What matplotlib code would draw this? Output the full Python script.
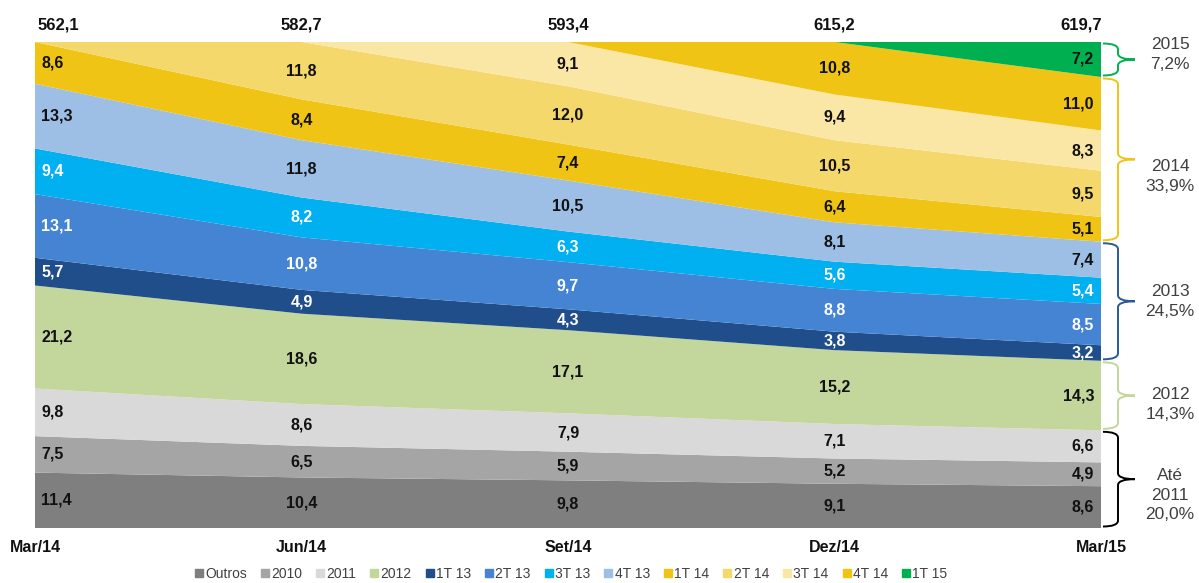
import numpy as np
import matplotlib
matplotlib.use("Agg")
import matplotlib.pyplot as plt
from matplotlib.path import Path
from matplotlib.patches import PathPatch
from matplotlib.lines import Line2D
from matplotlib import font_manager

# ---------------- data ----------------
periods = ["Mar/14", "Jun/14", "Set/14", "Dez/14", "Mar/15"]
totals = ["562,1", "582,7", "593,4", "615,2", "619,7"]
series_names = ["Outros", "2010", "2011", "2012", "1T 13", "2T 13", "3T 13", "4T 13",
                "1T 14", "2T 14", "3T 14", "4T 14", "1T 15"]
outros = [11.4, 10.4, 9.8, 9.1, 8.6]
s2010 = [7.5, 6.5, 5.9, 5.2, 4.9]
s2011 = [9.8, 8.6, 7.9, 7.1, 6.6]
s2012 = [21.2, 18.6, 17.1, 15.2, 14.3]
t1_13 = [5.7, 4.9, 4.3, 3.8, 3.2]
t2_13 = [13.1, 10.8, 9.7, 8.8, 8.5]
t3_13 = [9.4, 8.2, 6.3, 5.6, 5.4]
t4_13 = [13.3, 11.8, 10.5, 8.1, 7.4]
t1_14 = [8.6, 8.4, 7.4, 6.4, 5.1]
t2_14 = [0.0, 11.8, 12.0, 10.5, 9.5]
t3_14 = [0.0, 0.0, 9.1, 9.4, 8.3]
t4_14 = [0.0, 0.0, 0.0, 10.8, 11.0]
t1_15 = [0.0, 0.0, 0.0, 0.0, 7.2]

group_labels = ["Até\n2011\n20,0%", "2012\n14,3%", "2013\n24,5%", "2014\n33,9%", "2015\n7,2%"]
group_sizes = [3, 1, 4, 4, 1]  # number of series in each group (bottom to top)

# ---------------- style ----------------
colors = ["#7F7F7F", "#A5A5A5", "#D9D9D9", "#C3D69B", "#1F4E8B", "#4584D3", "#00B0F0",
          "#9DBFE6", "#F0C415", "#F5D86B", "#FAE7A6", "#F0C415", "#00B050"]
label_white = [False, False, False, False, True, True, True, False, False, False, False, False, False]
brace_colors = ["#000000", "#C3D69B", "#2A5A96", "#F0C415", "#00B050"]

available = {f.name for f in font_manager.fontManager.ttflist}
base_font = "Liberation Sans" if "Liberation Sans" in available else "DejaVu Sans"
narrow_font = "Liberation Sans Narrow" if "Liberation Sans Narrow" in available else base_font
plt.rcParams["font.family"] = [base_font, "DejaVu Sans"]

data = np.array([outros, s2010, s2011, s2012, t1_13, t2_13, t3_13, t4_13,
                 t1_14, t2_14, t3_14, t4_14, t1_15])
x = np.arange(len(periods))

W, H = 1199, 583
fig = plt.figure(figsize=(W / 100, H / 100), dpi=100)
L, R, T, B = 35, 1101, 42, 528
ax = fig.add_axes([L / W, 1 - B / H, (R - L) / W, (B - T) / H])
ax.stackplot(x, data, colors=colors, linewidth=0)
ax.set_xlim(0, len(periods) - 1)
ax.set_ylim(0, 100)
ax.axis("off")

pxx = (R - L) / (len(periods) - 1)   # px per x unit
pxy = (B - T) / 100.0                # px per y unit

cum = np.vstack([np.zeros(len(periods)), np.cumsum(data, axis=0)])
for i in range(data.shape[0]):
    for j in range(len(periods)):
        v = data[i, j]
        if v <= 0:
            continue
        mid = (cum[i, j] + cum[i + 1, j]) / 2
        if j == 0:
            ha, dx = "left", 6
        elif j == len(periods) - 1:
            ha, dx = "right", -7
        else:
            ha, dx = "center", 0
        col = "white" if label_white[i] else "#111111"
        ax.annotate(f"{v:.1f}".replace(".", ","), (x[j], mid), xytext=(dx * 0.72, 0),
                    textcoords="offset points", ha=ha, va="center",
                    fontsize=11.5, fontweight="bold", color=col)

# totals on top & period labels below
for j in range(len(periods)):
    if j == 0:
        ha, dx = "left", 3
    elif j == len(periods) - 1:
        ha, dx = "right", 1
    else:
        ha, dx = "center", 0
    ax.annotate(totals[j], (x[j], 100), xytext=(dx * 0.72, 17 * 0.72), textcoords="offset points",
                ha=ha, va="center", fontsize=12, fontweight="bold", color="#111111",
                annotation_clip=False)
    ax.annotate(periods[j], (x[j], 0), xytext=(0, -20 * 0.72), textcoords="offset points",
                ha="center", va="center", fontsize=11.5, fontweight="bold", color="#111111",
                annotation_clip=False)

# braces on the right
last = cum[:, -1]
idx = 0
text_offsets = [16, 9, 0, 17, -5]
x0 = len(periods) - 1 + 2 / pxx
x1 = len(periods) - 1 + 17 / pxx
x2 = len(periods) - 1 + 34 / pxx
for g, n in enumerate(group_sizes):
    bot = last[idx] + 1.5 / pxy
    top = last[idx + n] - 1.5 / pxy
    idx += n
    mid = (bot + top) / 2
    r = 6 / pxy
    verts = [(x0, top), (x1, top), (x1, top - r),
             (x1, mid + r), (x1, mid), (x2, mid),
             (x1, mid), (x1, mid - r),
             (x1, bot + r), (x1, bot), (x0, bot)]
    codes = [Path.MOVETO, Path.CURVE3, Path.CURVE3,
             Path.LINETO, Path.CURVE3, Path.CURVE3,
             Path.CURVE3, Path.CURVE3,
             Path.LINETO, Path.CURVE3, Path.CURVE3]
    ax.add_patch(PathPatch(Path(verts, codes), fill=False, edgecolor=brace_colors[g],
                           linewidth=1.4, clip_on=False))
    ty = mid - text_offsets[g] / pxy
    ax.text(len(periods) - 1 + 69 / pxx, ty, group_labels[g], ha="center", va="center",
            fontsize=12.5, color="#404040", linespacing=1.4, clip_on=False)

# legend
handles = [Line2D([], [], marker="s", linestyle="none", markersize=6,
                  markerfacecolor=c, markeredgecolor=c) for c in colors]
fig.legend(handles, series_names, loc="center", bbox_to_anchor=(571 / W, 1 - 574 / H),
           ncol=len(series_names), frameon=False, handlelength=0.6, handletextpad=0.15,
           columnspacing=1.0, prop={"family": narrow_font, "size": 10},
           labelcolor="#404040")

fig.savefig("out.png", dpi=100)
